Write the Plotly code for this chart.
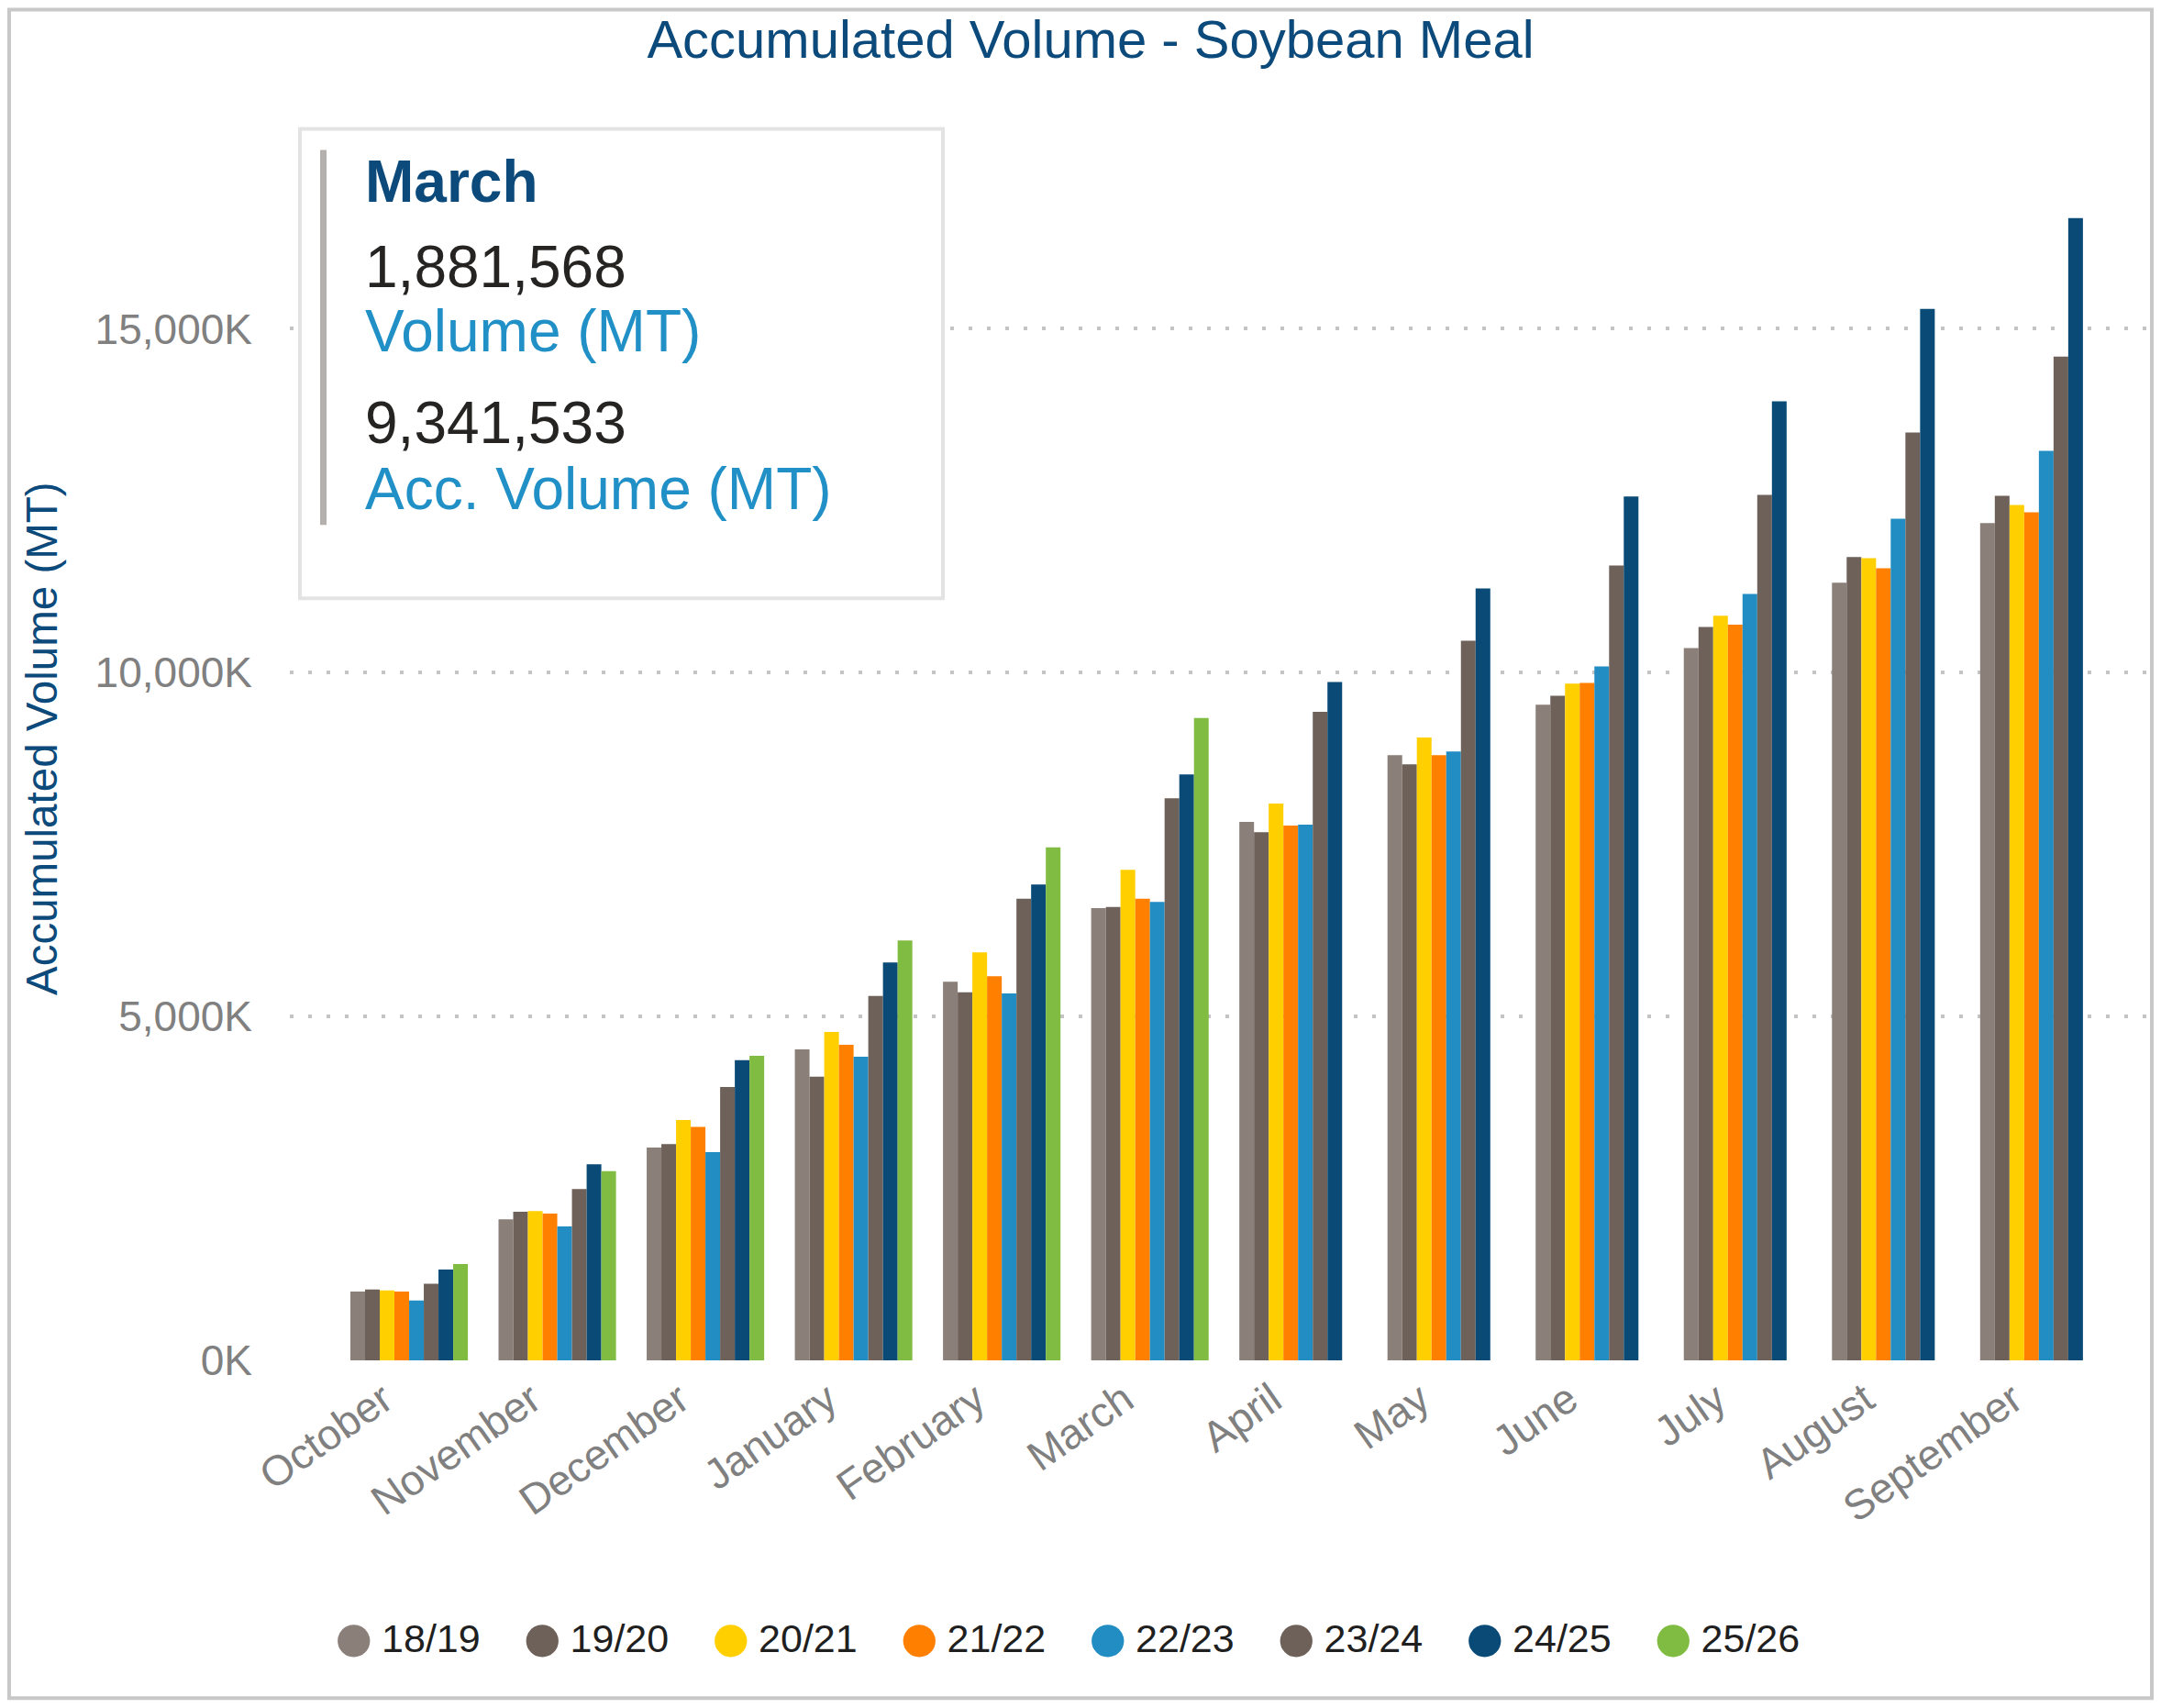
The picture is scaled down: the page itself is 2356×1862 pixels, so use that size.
import plotly.graph_objects as go

# ---------------- data (accumulated volume, metric tonnes) ----------------
months = ["October", "November", "December", "January", "February", "March",
          "April", "May", "June", "July", "August", "September"]
seasons = ["18/19", "19/20", "20/21", "21/22", "22/23", "23/24", "24/25", "25/26"]
colors = ["#8b7f79", "#6e6159", "#ffcf00", "#ff8000", "#218dc3", "#6e6159", "#094a77", "#80bc42"]

acc_18_19 = [1002000, 2052000, 3095000, 4521000, 5507000, 6577000, 7830000, 8799000, 9532000, 10358000, 11309000, 12175000]
acc_19_20 = [1029000, 2162000, 3143000, 4125000, 5351000, 6591000, 7680000, 8666000, 9665000, 10665000, 11682000, 12571000]
acc_20_21 = [1016000, 2170000, 3495000, 4774000, 5933000, 7133000, 8097000, 9056000, 9839000, 10829000, 11665000, 12438000]
acc_21_22 = [1002000, 2135000, 3396000, 4587000, 5587000, 6711000, 7777000, 8799000, 9852000, 10696000, 11518000, 12331000]
acc_22_23 = [869000, 1949000, 3028000, 4414000, 5334000, 6667000, 7790000, 8852000, 10092000, 11145000, 12238000, 13224000]
acc_23_24 = [1113000, 2490000, 3974000, 5298000, 6711000, 8172000, 9430000, 10465000, 11558000, 12584000, 13491000, 14597000]
acc_24_25 = [1322000, 2850000, 4365000, 5787000, 6919000, 8519000, 9865000, 11225000, 12562000, 13944000, 15290000, 16609000]
acc_25_26 = [1402000, 2750000, 4427000, 6107000, 7459965, 9341533, None, None, None, None, None, None]

series = [acc_18_19, acc_19_20, acc_20_21, acc_21_22, acc_22_23, acc_23_24, acc_24_25, acc_25_26]

y_ticks = [0, 5000000, 10000000, 15000000]
y_max = 17500000

tooltip_month = "March"
tooltip_season = "25/26"

# ---------------- layout geometry (page pixels; page body has an 8px margin) ----------------
OFF = 8
W, H = 2356 - 2 * OFF, 1862 - 2 * OFF
PLOT_X0, PLOT_X1 = 316, 2344      # page px
PLOT_Y0, PLOT_Y1 = 170.5, 1483.5  # page px (top, bottom)
L = PLOT_X0 - OFF
R = (W + OFF) - PLOT_X1
T = PLOT_Y0 - OFF
B = (H + OFF) - PLOT_Y1
PW, PH = PLOT_X1 - PLOT_X0, PLOT_Y1 - PLOT_Y0


def px(x):
    return (x - PLOT_X0) / PW


def py(y):
    return (PLOT_Y1 - y) / PH


FONT = "Liberation Sans, Arial, Helvetica, sans-serif"
NAVY = "#0b4a7b"

fig = go.Figure()

for name, vals, col in zip(seasons, series, colors):
    fig.add_trace(go.Bar(
        x=months, y=vals, name=name, marker=dict(color=col, line=dict(width=0)),
        showlegend=False,
    ))
    # legend entry with a large round bullet
    fig.add_trace(go.Scatter(
        x=[None], y=[None], mode="markers",
        marker=dict(size=1, color="rgba(0,0,0,0)"),
        name=(f"<span style='font-size:82px;color:{col};baseline-shift:-11px'>●</span>"
              f"<span style='font-size:20px'> </span>{name}"),
        showlegend=True,
    ))

fig.update_layout(
    width=W, height=H,
    margin=dict(l=L, r=R, t=T, b=B, pad=0),
    paper_bgcolor="white", plot_bgcolor="white",
    barmode="group", bargap=0.207, bargroupgap=0,
    font=dict(family=FONT),
    title=dict(text="Accumulated Volume - Soybean Meal", x=(1189 - OFF) / W, xanchor="center",
               y=1 - (43 - OFF) / H, yanchor="middle", xref="container", yref="container",
               font=dict(size=58, color=NAVY, family=FONT)),
    showlegend=True,
    legend=dict(orientation="h", x=px(1143), xanchor="center", y=py(1785), yanchor="middle",
                font=dict(size=43, color="#1f1f1f", family=FONT),
                entrywidth=160.5, entrywidthmode="pixels", itemwidth=30,
                bgcolor="rgba(0,0,0,0)"),
)

fig.update_xaxes(
    type="category", range=[-0.805, 11.75], showgrid=False, showline=False, zeroline=False,
    ticks="", tickangle=-35, tickfont=dict(size=46, color="#808080", family=FONT),
    ticklabelstandoff=6, ticklabelshift=-28,
)
fig.update_yaxes(
    range=[0, y_max], tickvals=y_ticks, ticktext=[f"{v / 1000:,.0f}K" for v in y_ticks],
    showgrid=True, gridcolor="#c4c4c4", gridwidth=3.5, griddash="3.5px,16.5px",
    zeroline=False, showline=False, ticks="",
    tickfont=dict(size=46, color="#808080", family=FONT), ticklabelstandoff=40,
)

# y-axis title
fig.add_annotation(text="Accumulated Volume (MT)", textangle=-90, xref="paper", yref="paper",
                   x=px(45), y=py(805), xanchor="center", yanchor="middle", showarrow=False,
                   font=dict(size=47.5, color=NAVY, family=FONT))

# tooltip box (values computed from the data)
mi = months.index(tooltip_month)
si = seasons.index(tooltip_season)
acc_val = series[si][mi]
vol_val = series[si][mi] - series[si][mi - 1]

fig.add_shape(type="rect", xref="paper", yref="paper", x0=px(327), x1=px(1028), y0=py(140), y1=py(652),
              line=dict(color="#e3e3e3", width=4), fillcolor="white", layer="above")
fig.add_shape(type="rect", xref="paper", yref="paper", x0=px(349), x1=px(356), y0=py(163), y1=py(572),
              line=dict(width=0), fillcolor="#b3b0ad", layer="above")

FS = 64


def tip(text, baseline, color, bold=False):
    top = baseline - 0.905 * FS - 1
    fig.add_annotation(text=f"<b>{text}</b>" if bold else text, xref="paper", yref="paper",
                       x=px(396), y=py(top), xanchor="left", yanchor="top", showarrow=False,
                       font=dict(size=FS, color=color, family=FONT))


tip(tooltip_month, 218, NAVY, bold=True)
tip(f"{vol_val:,}", 311, "#252423")
tip("Volume (MT)", 382, "#2190c6")
tip(f"{acc_val:,}", 482, "#252423")
tip("Acc. Volume (MT)", 554, "#2190c6")

# outer frame (drawn at the figure's own edges)
fig.add_shape(type="rect", xref="paper", yref="paper",
              x0=px(OFF + 2), x1=px(OFF + W - 2), y0=py(OFF + 2), y1=py(OFF + H - 2),
              line=dict(color="#c8c8c8", width=4), fillcolor="rgba(0,0,0,0)", layer="above")

fig.write_html("out.html")
